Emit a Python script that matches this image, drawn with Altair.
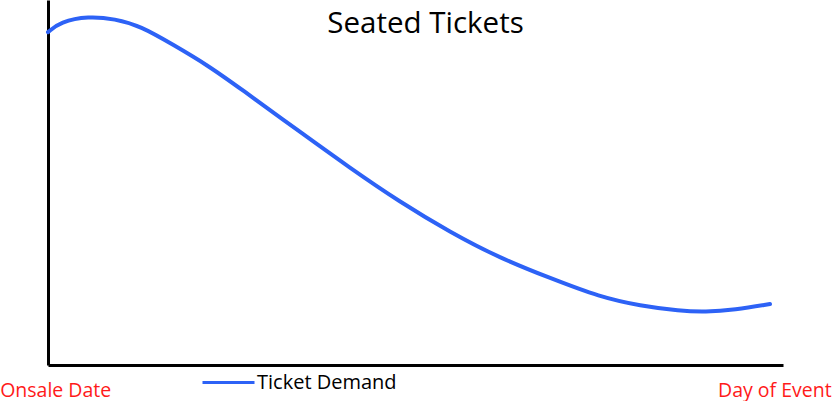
import altair as alt
import pandas as pd

# Demand curve from the onsale date (day 0) to the day of the event (day ~100)
days = [0, 1.7, 5.6, 9.3, 12.8, 17.4, 22.1, 26.6, 35.0, 41.9, 48.8, 55.8,
        62.7, 69.7, 76.6, 82.2, 87.7, 91.2, 95.3, 100.2]
demand = [91.2, 94.0, 95.6, 94.8, 92.9, 87.7, 82.2, 75.9, 63.8, 54.0, 44.7, 36.4,
          29.3, 23.8, 18.6, 16.2, 14.8, 14.5, 15.1, 16.7]
series_name = "Ticket Demand"
end_label_names = ["Onsale Date", "Day of Event"]

df = pd.DataFrame({"day": days, "demand": demand, "series": series_name})

# axis tick positions for the two end labels
end_label_days = [1, 100.8]
label_expr = "datum.value < 50 ? '%s' : '%s'" % tuple(end_label_names)

FONT = "Open Sans"

chart = (
    alt.Chart(df)
    .mark_line(interpolate="basis", strokeWidth=4, strokeCap="round")
    .encode(
        x=alt.X(
            "day:Q",
            scale=alt.Scale(domain=[0, 102], nice=False, zero=False),
            axis=alt.Axis(
                values=end_label_days,
                labelExpr=label_expr,
                title=None,
                grid=False,
                ticks=False,
                domain=True,
                domainColor="black",
                domainWidth=3,
                labelColor="#ff1a1a",
                labelFont=FONT,
                labelFontSize=19.5,
                labelAlign="center",
                labelBaseline="alphabetic",
                labelPadding=31,
                labelBound=False,
                labelFlush=False,
                labelOverlap=False,
            ),
        ),
        y=alt.Y(
            "demand:Q",
            scale=alt.Scale(domain=[0, 100], nice=False, zero=False),
            axis=alt.Axis(
                title=None,
                grid=False,
                ticks=False,
                labels=False,
                domain=True,
                domainColor="black",
                domainWidth=3,
            ),
        ),
        color=alt.Color(
            "series:N",
            scale=alt.Scale(domain=[series_name], range=["#2d62f6"]),
            legend=alt.Legend(
                title=None,
                orient="none",
                legendX=153,
                legendY=355,
                padding=0,
                symbolType="stroke",
                symbolSize=2704,
                symbolStrokeWidth=3,
                labelFont=FONT,
                labelFontSize=20,
                labelColor="black",
                labelOffset=1,
            ),
        ),
    )
    .properties(
        width=735,
        height=365,
        padding={"left": 48, "top": 0, "right": 50, "bottom": 36},
        autosize=alt.AutoSizeParams(type="none"),
        background="white",
        title=alt.TitleParams(
            "Seated Tickets",
            anchor="middle",
            font=FONT,
            fontSize=29.5,
            fontWeight="normal",
            color="black",
            baseline="alphabetic",
            offset=0,
            dx=10,
            dy=62,
        ),
    )
    .configure_view(stroke=None, strokeWidth=0)
)

chart.save("out.html", embed_options={"renderer": "svg", "actions": False})
